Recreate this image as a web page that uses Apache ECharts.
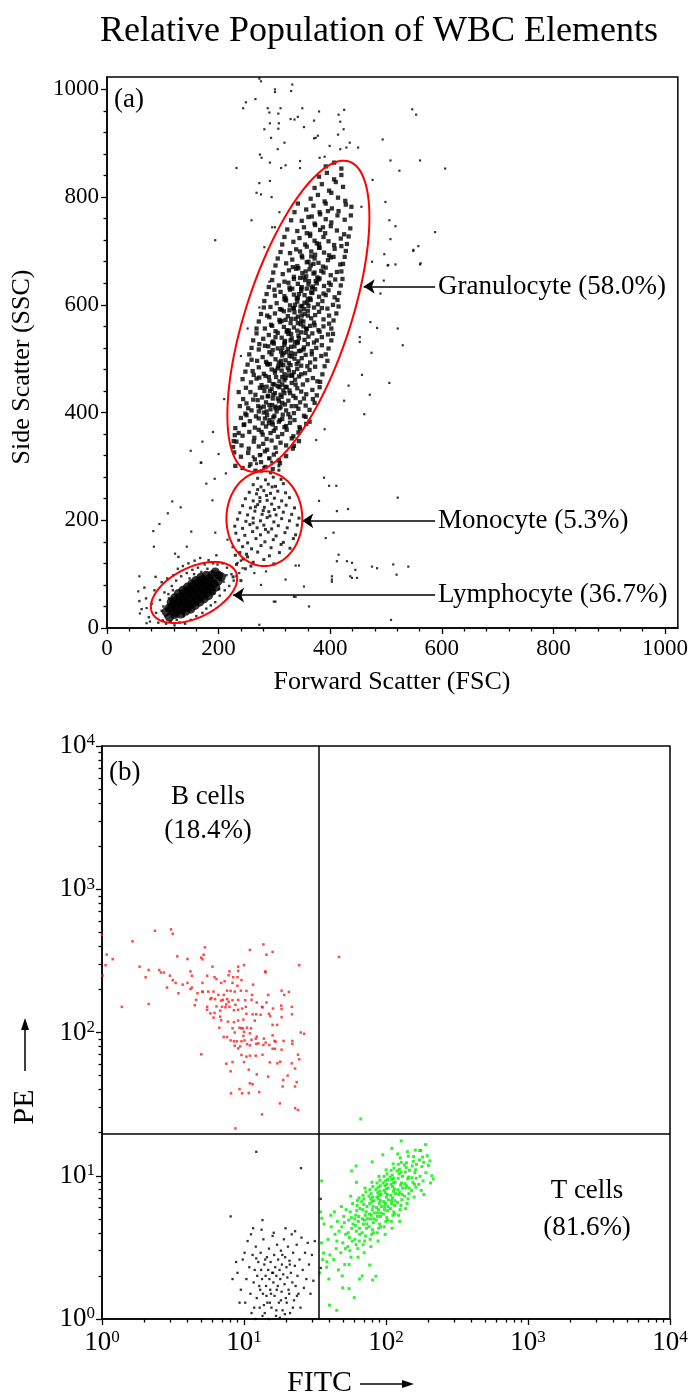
<!DOCTYPE html>
<html><head><meta charset="utf-8">
<script src="https://cdn.jsdelivr.net/npm/echarts@6.0.0/dist/echarts.min.js"></script>
<style>html,body{margin:0;padding:0;background:#fff}#c{width:691px;height:1396px}</style>
</head><body><div id="c"></div>
<script>
// ---------------- DATA ----------------
const titleText = 'Relative Population of WBC Elements';
const scatterTicks = [0, 200, 400, 600, 800, 1000];
const scatterMinorTicks = [40,80,120,160,240,280,320,360,440,480,520,560,640,680,720,760,840,880,920,960];
const logTicks = [1, 10, 100, 1000, 10000];
const logMinorTicks = [2,3,4,5,6,7,8,9,20,30,40,50,60,70,80,90,200,300,400,500,600,700,800,900,2000,3000,4000,5000,6000,7000,8000,9000];
const annotationLabels = ['Granulocyte (58.0%)', 'Monocyte (5.3%)', 'Lymphocyte (36.7%)'];
// arrow start/end in data units: [xStart, xEnd, y]
const annotationArrows = [[588, 460, 634], [588, 350, 199], [588, 226, 61]];
// gates: [cx, cy, ux, uy, vx, vy] (FSC, SSC units)
const gateEllipses = [
  [343, 579, 91, 287, 89, -31],
  [282, 203, 68, 0, 0, 88],
  [156, 66, 75, 38, 19, -42]
];
const quadrantFITC = 33.4;
const quadrantPE = 19.5;

const granulocytes = [
[243,297],[257,304],[266,292],[276,308],[284,299],[297,295],[310,306],[230,301],
[240,318],[253,325],[265,313],[274,321],[283,328],[291,315],[299,322],[308,311],[321,319],[228,326],
[241,339],[254,333],[263,346],[272,337],[280,342],[287,331],[295,348],[302,335],[311,344],[321,339],[333,333],[227,347],
[243,357],[255,364],[264,353],[272,368],[279,359],[286,351],[293,362],[299,366],[306,355],[314,360],[322,368],[331,352],[343,363],[229,358],
[245,377],[256,384],[265,372],[272,389],[279,380],[285,374],[291,386],[297,378],[302,371],[308,383],[314,388],[321,375],[328,381],[336,386],[345,373],[357,379],[283,389],
[248,398],[259,404],[267,393],[275,409],[281,400],[287,395],[293,406],[298,391],[304,402],[309,408],[315,396],[321,404],[328,391],[335,399],[343,407],[353,394],[272,402],[311,410],
[250,417],[262,424],[271,412],[278,428],[285,419],[291,414],[297,426],[302,411],[308,421],[313,429],[319,415],[325,422],[331,412],[338,427],[346,419],[356,413],[369,425],[288,430],
[257,438],[266,433],[274,446],[282,440],[289,431],[295,444],[301,436],[306,449],[311,433],[316,441],[322,447],[328,436],[334,431],[341,445],[348,439],[357,434],[368,442],[286,448],
[258,456],[268,463],[277,451],[284,468],[291,459],[297,453],[303,466],[309,458],[314,452],[320,464],[325,469],[331,455],[337,461],[344,467],[351,452],[359,460],[369,464],[382,457],
[261,477],[272,484],[281,472],[288,489],[295,480],[301,474],[307,486],[313,478],[318,471],[324,483],[329,488],[335,475],[341,481],[348,487],[355,473],[363,479],[373,485],[292,490],
[269,496],[279,503],[287,491],[295,508],[302,499],[308,493],[314,506],[320,497],[326,492],[331,504],[337,509],[343,495],[349,501],[356,507],[364,493],[373,499],[384,505],[316,510],
[272,517],[283,524],[291,512],[299,528],[306,519],[312,513],[318,526],[324,518],[330,511],[336,523],[341,529],[347,515],[353,521],[360,527],[367,514],[375,520],[385,525],[296,530],
[280,537],[290,544],[298,532],[306,548],[313,539],[319,533],[325,546],[331,538],[337,531],[343,543],[348,549],[354,535],[361,541],[368,547],[376,534],[385,540],[396,545],[322,550],
[283,556],[294,563],[302,551],[310,568],[317,559],[323,553],[329,566],[335,558],[341,552],[347,564],[352,569],[358,555],[364,561],[371,567],[379,553],[388,560],[398,565],[313,570],
[291,577],[301,584],[309,572],[317,588],[324,579],[330,574],[336,586],[342,578],[348,571],[354,583],[360,589],[366,575],[373,581],[380,587],[388,573],[398,580],[327,590],
[293,596],[304,603],[313,591],[321,608],[328,599],[335,593],[341,606],[347,597],[353,592],[359,604],[365,609],[371,595],[378,601],[386,607],[395,593],[405,600],[318,610],
[301,617],[311,624],[320,612],[328,628],[335,619],[342,613],[348,626],[354,618],[360,611],[366,623],[373,629],[380,615],[388,621],[397,627],[408,614],[332,630],
[308,636],[318,643],[327,632],[335,648],[342,639],[349,633],[355,646],[361,638],[367,631],[374,644],[381,649],[389,635],[398,641],[409,647],[346,650],
[315,657],[326,664],[335,652],[343,668],[350,659],[357,653],[363,666],[370,658],[377,651],[384,663],[392,669],[401,655],[412,661],[339,667],
[321,677],[332,684],[341,672],[350,688],[358,679],[365,673],[372,686],[379,678],[387,671],[396,683],[406,689],[418,675],
[328,696],[339,703],[349,691],[358,708],[366,699],[373,693],[381,706],[389,697],[398,692],[408,704],[420,709],
[334,717],[345,724],[355,712],[364,728],[372,719],[380,713],[388,726],[397,718],[407,711],[419,723],
[341,737],[353,744],[364,732],[373,748],[382,739],[391,733],[401,746],[412,738],[425,731],
[349,756],[361,763],[372,751],[382,768],[392,759],[402,753],[413,766],[426,758],
[357,777],[370,784],[381,772],[392,788],[403,779],[415,774],[428,786],
[365,797],[378,804],[390,792],[402,808],[414,799],[427,793],
[372,817],[385,824],[398,812],[410,828],[423,819],
[380,838],[394,845],[407,833],[420,841],
[392,857],[407,864],[420,853],
[290,380],[300,394],[286,402],[310,386],[296,414],[306,426],[292,440],[318,436],[300,452],[314,466],[306,482],[326,478],[312,496],[322,512],[336,500],
[318,530],[330,522],[344,538],[326,552],[338,574],[352,560],[334,594],[346,588],[360,580],[340,612],[354,604],[368,622],[348,630],[362,644],[376,640],
[356,662],[370,676],[302,408],[320,448],[332,470],[316,488],[344,514],[330,546],[356,548],[342,566],[350,598],[364,612],[358,630],[372,660],[366,690],[380,706],
[226,336],[232,346],[335,338],[344,347],
[236,362],[230,371],[240,390],[246,378],[334,356],[346,370],[356,392],[363,383],[250,395],
[238,412],[244,425],[236,438],[249,446],[363,405],[372,418],[376,432],[381,447],[253,408],
[243,462],[248,476],[252,489],[259,498],[377,458],[386,471],[390,486],[395,496],[263,470],
[255,508],[259,520],[262,534],[268,547],[392,508],[397,519],[402,534],[405,546],[273,527],
[268,556],[272,569],[276,583],[281,595],[402,556],[406,571],[411,584],[415,597],[287,580],
[282,607],[286,620],[290,633],[296,646],[413,609],[416,622],[419,636],[422,648],[300,628],
[298,660],[302,673],[306,686],[311,698],[420,662],[423,676],[426,689],[428,700],
[314,712],[318,726],[323,740],[430,713],[433,727],[436,742],
[330,757],[336,772],[342,788],[437,766],[438,782],
[277,364],[318,373],[296,382],[325,397],[281,411],[314,418],[339,412],[270,423],[298,433],[327,441],[353,426],[279,447],[309,447],[338,452],
[290,466],[318,460],[348,471],[273,465],[301,478],[331,468],[359,486],[285,494],[312,488],[340,490],[297,516],[327,505],[352,517],[367,508],
[289,523],[314,520],[342,531],[371,530],[302,540],[329,534],[357,556],[381,550],[296,561],[320,572],[349,580],[372,562],[310,592],[337,600],
[361,598],[385,594],[318,616],[344,620],[369,634],[392,618],[325,641],[352,651],[379,647],[401,637],[333,670],[361,680],[388,660],[346,699],
[376,714],[401,688],[358,733],[387,744],[367,764],[396,774]
];

const monocytes = [
[262,122],[281,127],[299,119],
[250,137],[270,141],[291,134],[309,140],
[243,151],[259,147],[276,153],[294,149],[312,155],[328,148],
[236,163],[252,158],[267,166],[283,160],[298,164],[316,159],[334,166],
[231,176],[247,172],[261,179],[275,173],[289,178],[303,171],[319,177],[338,173],
[229,189],[243,185],[256,192],[269,186],[281,191],[295,184],[307,190],[323,186],[341,191],
[234,202],[249,198],[262,204],[275,199],[287,205],[299,197],[313,203],[327,199],[344,204],
[238,214],[252,210],[265,217],[278,211],[290,216],[303,210],[316,215],[331,211],
[243,227],[257,223],[270,229],[282,224],[295,230],[308,224],[321,228],[336,223],
[248,240],[262,236],[274,242],[287,237],[300,241],[313,236],[327,242],
[255,252],[268,249],[281,255],[293,250],[306,254],[320,251],
[262,266],[276,262],[289,267],[302,263],[316,268],
[270,278],[284,275],[298,280],[312,276],
[277,291],[293,288],[308,293],
[266,225],[280,218],[292,208],[274,235],[286,246],[262,195],[300,220],[284,183],[270,257],[296,262],
[255,300],[268,305],[281,298],[295,308],[308,301],[262,318],[276,322],[290,315],[304,326],
[238,140],[244,128],[232,118],[248,110],[226,95],[240,88],[252,132],[258,115],[230,135]
];

const lymphocyteCore = [
[121,25],[111,37],[132,26],[124,37],[115,48],[141,31],[134,40],[128,48],[121,56],[150,35],[143,45],[136,54],[128,64],
[158,42],[151,51],[143,61],[136,70],[166,48],[159,57],[151,67],[144,76],[174,54],[167,64],[159,73],[152,82],
[182,60],[174,70],[167,79],[159,88],[188,68],[181,77],[174,85],[168,94],[195,76],[186,87],[178,98],[199,87],[189,99],[200,98],
[123,29],[116,39],[134,33],[126,42],[120,50],[145,38],[138,47],[131,57],[153,46],[146,56],[139,65],[162,53],[155,62],[147,71],
[170,59],[163,68],[155,78],[178,65],[171,74],[163,84],[185,72],[178,81],[171,90],[192,82],[184,92],[106,30],[112,20],[205,95],[194,104]
];

const lymphocyteHalo = [
[62,35],[70,55],[75,20],[80,45],[85,70],[88,28],[92,10],[95,52],[98,85],[100,14],[103,66],[106,8],[108,92],[111,55],[114,12],
[116,78],[119,98],[121,5],[124,88],[127,110],[130,10],[133,96],[136,115],[140,8],[143,102],[146,120],[150,15],[153,108],[157,125],
[160,22],[163,112],[167,130],[171,28],[175,118],[178,36],[182,126],[186,42],[190,120],[194,48],[198,118],[202,60],[207,120],
[211,70],[215,112],[219,78],[223,100],[227,88],[232,96],[87,95],[67,75],[58,50],[128,132],[196,135],[240,125],
[101,40],[104,22],[110,63],[113,30],[118,70],[125,15],[138,22],[148,92],[156,100],[169,104],[180,110],[192,64],[201,72],[209,86],[214,98],[98,32]
];

const scatterOutliers = [
[273,1020],[276,1015],[301,1000],[301,995],[330,997],[332,1009],[249,976],[266,982],[244,965],[288,965],[291,957],[307,955],[311,965],[350,965],
[329,945],[336,944],[342,949],[380,959],[371,942],[415,953],[425,962],[418,940],[353,930],[282,926],[292,937],[308,937],[307,927],[294,910],
[318,901],[306,889],[274,879],[277,873],[292,864],[312,854],[320,859],[346,867],[346,854],[232,854],[273,826],[292,830],[268,808],[276,805],
[295,800],[309,772],[259,757],[194,720],[282,707],[301,744],[296,744],[374,910],[378,914],[371,909],[399,895],[390,875],[381,873],[429,892],
[435,901],[450,892],[418,889],[424,926],[414,916],
[547,963],[554,953],[606,853],[561,868],[508,868],[524,849],[494,907],[588,735],[558,709],[549,700],[561,675],[517,746],[508,722],[506,757],
[499,791],[497,694],[517,675],[503,673],[476,832],[456,782],
[490,621],[484,557],[472,568],[521,556],[453,540],[453,531],[530,525],[474,511],[457,470],[506,455],[471,433],[425,422],[433,450],[461,397],
[390,369],[375,349],[411,264],[389,279],[521,242],[549,702],[562,677],[504,674],[496,645],[475,680],
[190,364],[171,346],[169,307],[193,277],[210,425],[240,505],[252,556],[273,595],[291,643],
[150,329],[200,323],[168,307],[117,235],[132,224],[109,213],[94,193],[83,180],[151,179],[84,151],[143,151],[122,138],[194,177],[189,237],
[178,268],[213,287],[216,164],[225,150],[234,121],[237,102],[243,111],[58,96],[56,68],[59,27],[71,37],[77,12],[273,6],[302,49],[320,90],
[338,116],[344,116],[353,77],[276,80],[285,105],[264,102],[380,236],[398,264],[412,217],[432,221],[392,167],[406,177],[415,136],[412,124],
[430,124],[403,96],[403,86],[436,96],[445,108],[362,40],[338,58],
[439,121],[448,93],[475,114],[484,111],[513,118],[519,99],[540,114],[509,15],[71,9],[299,49],[335,58],[403,90],[439,93]
];

// panel (b): [FITC, PE]
const bCells = [
[1.0,480],[1.08,350],[1.06,295],[1.01,250],[1.19,325],[1.38,151],[1.64,433],[2.36,513],[3.06,525],[3.15,488],
[1.84,288],[2.13,273],[2.03,243],[2.13,158],[2.53,273],[2.6,262],[2.73,262],[3.01,249],[2.87,206],[3.15,232],
[3.3,222],[3.45,188],[3.39,340],[4.0,326],[4.2,267],[4.3,249],[4.0,222],[3.7,216],[4.3,206],[4.2,201],
[4.7,188],[4.6,169],[4.5,155],[5.1,193],[5.1,222],[5.5,249],[5.3,393],[5.2,349],[5.0,333],[5.1,324],
[6.0,288],[6.2,243],[6.4,236],[6.9,222],[7.3,228],[7.8,251],[7.9,267],[8.4,243],[8.3,222],[9.0,243],
[9.1,269],[9.1,288],[10.0,295],[9.6,232],[11.0,377],[11.6,216],[13.7,412],[14.4,349],[15.9,365],[14.1,267],
[14.2,263],[24.5,295],[18.4,196],[20.7,192],[19.2,183],[21.7,151],[18.3,154],[18.4,128],[21.8,134],[25.1,100],
[26.5,98],[24.0,70],[24.5,65],[22.9,56],[23.5,45],[22.9,42],[20.3,50],[18.9,46.6],[18.7,42],[17.9,32],
[22.9,29.6],[24.0,28.8],[13.4,26.8],[12.8,38.4],[11.0,44.2],[11.5,43.5],[14.8,49.2],[12.3,51],[10.8,55],[9.3,40.3],
[8.1,37.6],[8.05,53.6],[7.5,60.6],[8.3,62.2],[10.0,62.2],[9.6,69.7],[10.4,67.8],[11.0,68.9],[12.1,68.9],[13.5,70],
[15.2,61.9],[17.2,60.9],[18.0,62.5],[21.7,60.9],[15.9,77],[16.5,77],[15.1,81.8],[13.7,81.8],[12.2,83.2],[11.0,81.3],
[12.6,84],[14.2,85],[16.4,87.3],[19.0,87.3],[21.9,87.3],[21.9,83.2],[18.4,75.9],[16.7,86.3],[15.9,95.5],[13.8,90.6],
[12.1,90.6],[11.0,98.7],[10.0,101],[9.6,107],[10.5,108],[11.2,107],[11.9,121],[13.1,133],[15.0,135],[15.3,130],
[15.9,113],[17.1,113],[18.4,146],[16.0,147],[13.4,151],[12.2,134],[11.5,134],[10.4,135],[9.9,123],[9.8,107],
[9.3,108],[9.1,121],[8.5,118],[8.5,143],[9.1,144],[9.7,147],[10.3,151],[11.3,169],[11.4,183],[10.4,195],
[9.5,196],[9.0,212],[8.6,193],[8.05,195],[7.6,196],[7.2,183],[6.9,167],[7.5,157],[7.9,151],[8.7,156],
[9.1,169],[10.2,168],[12.3,162],[14.4,162],[14.8,183],[13.5,150],[8.3,168],[7.8,164],[7.4,150],[7.0,151],
[6.8,142],[6.8,129],[6.9,122],[6.7,108],[7.7,119],[8.3,107],[8.6,100],[7.2,93],[7.6,93],[8.05,88],
[8.5,86.8],[8.9,86.8],[8.6,80.9],[9.1,77.4],[9.4,80],[9.6,86.8],[9.9,94.5],[10.1,88],[10.5,83],[11.3,89],
[12.3,93.5],[6.6,183],[6.25,171],[5.9,174],[5.8,171],[5.5,151],[5.5,144],[5.8,136],[6.1,127],[6.2,137],
[6.4,152],[7.1,169],[7.6,171],[6.1,193],[5.6,193],[5.1,192],[5.0,70.4],[8.7,21.4],[10.8,37.8],[9.7,37.6],
[46.7,337]
];

const doubleNegative = [
[9.0,2.1],[9.5,1.6],[9.8,2.6],[10.2,1.3],[10.4,1.9],[10.6,3.5],[10.9,2.3],[11.1,1.5],[11.3,1.1],[11.5,2.8],[11.7,1.8],[11.9,2.2],
[12.1,3.2],[12.3,1.4],[12.4,2.0],[12.6,2.5],[12.8,1.7],[12.9,1.2],[13.1,2.9],[13.2,2.2],[13.4,1.9],[13.6,1.5],[13.7,3.6],[13.9,2.4],
[14.0,1.1],[14.2,2.0],[14.3,1.7],[14.5,2.7],[14.6,1.3],[14.8,2.2],[15.0,3.1],[15.1,1.9],[15.3,1.6],[15.4,2.5],[15.6,1.2],[15.8,2.1],
[15.9,3.8],[16.1,1.8],[16.3,2.8],[16.4,1.45],[16.6,2.3],[16.8,1.05],[16.9,2.0],[17.1,3.3],[17.3,1.7],[17.4,2.6],[17.6,1.3],[17.8,2.2],
[18.0,1.9],[18.2,3.0],[18.4,1.55],[18.5,2.4],[18.7,1.15],[18.9,2.05],[19.1,3.6],[19.3,1.75],[19.5,2.7],[19.7,1.4],[19.9,2.3],[20.2,1.95],
[20.4,3.2],[20.6,1.6],[20.9,2.55],[21.1,1.1],[21.4,2.1],[21.7,3.9],[21.9,1.8],[22.2,2.9],[22.5,1.35],[22.8,2.35],[23.1,1.7],[23.5,3.3],
[23.8,2.0],[24.2,1.5],[24.6,2.6],[25.0,1.2],[25.4,3.7],[25.9,2.2],[26.4,1.65],[26.9,2.9],[27.5,1.9],[28.1,3.4],[28.7,2.4],[29.4,1.5],
[30.1,2.8],[30.8,1.85],[31.5,3.5],[12.0,1.0],[14.9,1.0],[17.9,1.02],[13.3,4.2],[16.2,4.0],[19.6,4.3],[11.2,3.9],[22.9,4.1],[10.1,2.9],
[9.3,1.3],[8.3,1.9],[8.8,2.5],[13.0,1.6],[14.1,2.6],[15.5,1.5],[16.0,2.1],[17.0,1.6],[18.6,2.8],[20.0,1.3],[21.0,2.4],[13.8,1.25],[12.2,2.65],
[11.8,1.2],[13.5,1.05],[15.2,1.3],[16.9,1.15],[18.2,1.35],[19.4,1.08],[20.8,1.5],[22.1,1.2],[23.6,1.45],[14.4,1.45],
[12.2,14.7],[25.2,11.3],[8.05,5.2],[13.5,4.9],[11.6,4.3],[34.7,6.9],[34.7,2.27]
];

const tCells = [
[34.0,2.1],[35.2,3.4],[36.6,4.6],[35.8,2.6],[34.6,5.6],
[38.2,2.3],[39.1,3.6],[40.3,2.8],[41.2,4.4],[39.6,1.9],[40.9,5.3],
[42.9,2.6],[43.8,3.9],[44.6,3.1],[45.5,4.8],[46.2,2.2],[43.3,5.6],[45.1,3.5],[46.7,4.1],
[48.1,2.9],[48.9,4.4],[49.6,3.4],[50.4,5.2],[51.2,2.4],[52.0,3.9],[48.5,6.1],[50.9,4.7],[51.7,3.1],[49.2,2.0],[52.4,5.8],
[53.9,3.2],[54.6,4.9],[55.3,3.7],[56.0,5.6],[56.7,2.7],[57.4,4.3],[58.2,6.4],[54.2,4.0],[55.7,3.0],[57.0,5.1],[57.9,3.5],[55.0,2.4],[58.6,4.6],[56.4,7.2],
[60.5,3.6],[61.2,5.3],[61.9,4.1],[62.6,6.2],[63.3,3.1],[63.9,4.8],[64.6,7.0],[65.3,3.9],[60.9,4.5],[62.2,5.7],[63.6,2.7],[64.2,5.2],[65.0,4.3],[61.6,3.3],[62.9,6.7],[64.9,3.5],[60.2,5.0],[65.6,5.9],
[67.9,4.0],[68.6,5.8],[69.3,4.6],[70.0,6.9],[70.7,3.5],[71.4,5.3],[72.1,7.7],[72.8,4.3],[73.5,6.1],[68.2,5.0],[69.0,3.3],[69.7,6.3],[70.4,4.9],[71.1,8.2],[71.8,3.8],[72.5,5.6],[73.2,4.6],[67.5,6.6],[68.9,7.3],[73.9,5.0],[70.2,2.9],
[76.1,4.4],[76.9,6.4],[77.7,5.0],[78.5,7.5],[79.2,3.9],[80.0,5.8],[80.8,8.4],[81.6,4.7],[82.4,6.7],[76.5,5.4],[77.3,3.6],[78.1,6.9],[78.9,5.3],[79.6,9.0],[80.4,4.2],[81.2,6.1],[82.0,5.0],[75.8,7.2],[77.0,8.0],[82.8,5.5],[78.3,3.2],[80.6,7.1],[81.9,4.0],[79.8,6.6],
[85.4,4.9],[86.3,7.1],[87.1,5.5],[88.0,8.3],[88.9,4.3],[89.7,6.4],[90.6,9.3],[91.5,5.2],[92.4,7.4],[85.8,6.0],[86.7,4.0],[87.6,7.6],[88.5,5.8],[89.3,9.9],[90.2,4.6],[91.1,6.7],[92.0,5.5],[85.0,8.0],[86.4,8.9],[92.8,6.1],[87.9,3.5],[90.4,7.8],[91.8,4.4],[89.5,7.3],[88.2,6.9],[86.9,5.2],[91.3,8.5],
[95.9,5.4],[96.8,7.9],[97.8,6.1],[98.8,9.2],[99.7,4.8],[100.7,7.1],[101.7,10.3],[102.7,5.7],[103.7,8.2],[96.3,6.6],[97.3,4.4],[98.3,8.5],[99.2,6.4],[100.2,11.0],[101.2,5.1],[102.2,7.4],[103.2,6.1],[95.4,8.9],[96.9,9.9],[104.2,6.8],[98.6,3.9],[101.4,8.7],[103.0,4.9],[100.5,8.1],[99.0,7.6],[97.5,5.8],[102.5,9.4],
[107.4,5.9],[108.5,8.7],[109.6,6.7],[110.7,10.1],[111.7,5.3],[112.8,7.8],[113.9,11.3],[115.0,6.2],[116.1,9.0],[107.9,7.3],[109.0,4.8],[110.1,9.4],[111.2,7.0],[112.3,12.1],[113.4,5.6],[114.5,8.1],[115.6,6.7],[106.9,9.8],[108.6,10.9],[116.7,7.5],[110.4,4.3],[113.6,9.6],[115.3,5.4],[112.6,8.9],[111.0,8.4],[109.3,6.4],
[120.6,6.5],[121.8,9.6],[123.0,7.4],[124.3,11.1],[125.5,5.8],[126.7,8.6],[128.0,12.4],[129.2,6.8],[130.4,9.9],[121.2,8.0],[122.4,5.3],[123.7,10.3],[124.9,7.7],[126.1,13.3],[127.4,6.2],[128.6,8.9],[129.8,7.4],[120.0,10.8],[122.0,12.0],[131.0,8.2],[125.0,4.8],[127.6,10.6],
[135.3,7.2],[136.7,10.6],[138.0,8.2],[139.4,12.3],[140.8,6.4],[142.2,9.5],[143.6,13.7],[145.0,7.5],[146.4,10.9],[136.0,8.8],[137.4,5.9],[138.8,11.4],[140.1,8.5],[141.5,14.7],[142.9,6.9],[144.3,9.8],[145.7,8.2],[134.6,11.9],
[151.7,7.9],[153.2,11.7],[154.8,9.0],[156.3,13.6],[157.8,7.1],[159.4,10.5],[160.9,15.1],[162.5,8.3],[164.0,12.0],[152.4,9.7],[155.5,12.6],[158.6,8.7],[161.7,11.0],[163.2,9.6],
[170.2,8.7],[172.0,12.9],[173.7,9.9],[175.5,15.0],[177.2,7.9],[179.0,11.6],[180.8,13.5],[182.5,9.2],[184.2,12.4],
[191,10.5],[195,13.8],[199,11.8],[204,12.7],[210,10.0],
[49.5,1.65],[55.0,1.63],[59.8,1.41],[68.0,2.0],[80.6,1.87],[85.0,1.99],[76.8,2.38],[128,17.5],[121,14.2],[173,15.0],[206,8.9],[185,7.4],
[57.3,10.8],[61.6,11.7],[35.3,9.2],[35.3,5.05],[36.3,2.89],[38.3,2.51],[40,1.25],[45,1.15],[65,1.9],[62,9.0],[80,12.5],[110,15.5],
[95,14.0],[190,16.5],[215,9.5],[66.4,24.9]
];

// ---------------- CHART ----------------
const FONT = '"Liberation Serif", "Times New Roman", serif';
const BLACK = '#000';
const chart = echarts.init(document.getElementById('c'), null, {width: 691, height: 1396});

function linAxis(gridIndex, pos, minor) {
  return {
    gridIndex, type: 'value', min: 0, max: 1023, position: pos,
    axisLine: {show: !minor, onZero: false, lineStyle: {color: BLACK, width: 1.5}},
    axisTick: {show: true, inside: false, length: minor ? 3.5 : 6,
      customValues: minor ? scatterMinorTicks : scatterTicks, lineStyle: {color: BLACK, width: 1.3}},
    axisLabel: minor ? {show: false} : {show: true, customValues: scatterTicks, color: BLACK,
      formatter: v => String(v), fontFamily: FONT, fontSize: 23, margin: pos === 'bottom' ? 9 : 8},
    splitLine: {show: false}, minorTick: {show: false}
  };
}
const logRich = {
  m: {fontFamily: FONT, fontSize: 27, color: BLACK, verticalAlign: 'bottom'},
  e: {fontFamily: FONT, fontSize: 17, color: BLACK, verticalAlign: 'top'}
};
function logAxis(gridIndex, pos, minor) {
  return {
    gridIndex, type: 'log', logBase: 10, min: 1, max: 10000, position: pos,
    axisLine: {show: !minor, onZero: false, lineStyle: {color: BLACK, width: 1.5}},
    axisTick: {show: true, inside: false, length: minor ? 3.5 : 6,
      customValues: minor ? logMinorTicks : logTicks, lineStyle: {color: BLACK, width: 1.3}},
    axisLabel: minor ? {show: false} : {show: true, customValues: logTicks, margin: pos === 'bottom' ? 10 : 7,
      formatter: v => '{m|10}{e|' + Math.round(Math.log10(v)) + '}', rich: logRich},
    splitLine: {show: false}, minorTick: {show: false}
  };
}

function dots(data, xi, size, color, symbol) {
  return {type: 'scatter', xAxisIndex: xi, yAxisIndex: xi, data, symbol: symbol || 'rect', symbolSize: size,
    itemStyle: {color}, silent: true, z: 2};
}

const outlierSeries = dots(scatterOutliers, 0, 2.2, BLACK);
outlierSeries.markLine = {
  silent: true, symbol: ['none', 'arrow'], symbolSize: 11, animation: false,
  lineStyle: {color: BLACK, width: 1.5, type: 'solid'},
  label: {show: true, position: 'start', distance: 3, formatter: '{b}', color: BLACK, fontFamily: FONT, fontSize: 27},
  data: annotationArrows.map((a, i) => [{coord: [a[0], a[2]], name: annotationLabels[i]}, {coord: [a[1], a[2]]}])
};

const tSeries = dots(tCells, 2, 3, '#00ee00');
tSeries.markLine = {
  silent: true, symbol: ['none', 'none'], animation: false,
  lineStyle: {color: BLACK, width: 1.5, type: 'solid'}, label: {show: false},
  data: [{xAxis: quadrantFITC}, {yAxis: quadrantPE}]
};

const option = {
  animation: false,
  backgroundColor: '#fff',
  title: {text: titleText, left: 374, top: 9, textAlign: 'center',
    textStyle: {fontFamily: FONT, fontSize: 36, fontWeight: 'normal', color: BLACK}},
  grid: [
    {left: 107, top: 77, width: 573, height: 551, show: true, borderColor: BLACK, borderWidth: 1.5, backgroundColor: 'transparent'},
    {left: 102, top: 746, width: 568, height: 573, show: true, borderColor: BLACK, borderWidth: 1.5, backgroundColor: 'transparent'}
  ],
  xAxis: [linAxis(0, 'bottom', false), linAxis(0, 'bottom', true), logAxis(1, 'bottom', false), logAxis(1, 'bottom', true)],
  yAxis: [linAxis(0, 'left', false), linAxis(0, 'left', true), logAxis(1, 'left', false), logAxis(1, 'left', true)],
  series: [
    outlierSeries,
    dots(lymphocyteHalo, 0, 2.4, BLACK),
    dots(lymphocyteCore, 0, 9, BLACK, 'circle'),
    dots(monocytes, 0, 3, BLACK),
    dots(granulocytes, 0, 4.3, BLACK),
    {
      type: 'custom', xAxisIndex: 0, yAxisIndex: 0, silent: true, z: 5, clip: false,
      data: gateEllipses.map(g => [g[0], g[1]]),
      renderItem: (params, api) => {
        const g = gateEllipses[params.dataIndex];
        const pts = [];
        for (let k = 0; k < 120; k++) {
          const t = k / 120 * Math.PI * 2;
          pts.push(api.coord([g[0] + g[2] * Math.cos(t) + g[4] * Math.sin(t),
                              g[1] + g[3] * Math.cos(t) + g[5] * Math.sin(t)]));
        }
        return {type: 'polygon', shape: {points: pts}, style: {fill: 'none', stroke: '#ff0000', lineWidth: 2}};
      }
    },
    dots(bCells, 2, 2.5, '#ff1a1a'),
    dots(doubleNegative, 2, 2.3, BLACK),
    tSeries
  ],
  graphic: [
    {type: 'text', x: 114, y: 100, style: {text: '(a)', fontFamily: FONT, fontSize: 27, fill: BLACK, align: 'left', verticalAlign: 'middle'}},
    {type: 'text', x: 22, y: 367, rotation: Math.PI / 2, style: {text: 'Side Scatter (SSC)', fontFamily: FONT, fontSize: 26, fill: BLACK, align: 'center', verticalAlign: 'middle'}},
    {type: 'text', x: 392, y: 682, style: {text: 'Forward Scatter (FSC)', fontFamily: FONT, fontSize: 26, fill: BLACK, align: 'center', verticalAlign: 'middle'}},
    {type: 'text', x: 109, y: 773, style: {text: '(b)', fontFamily: FONT, fontSize: 27, fill: BLACK, align: 'left', verticalAlign: 'middle'}},
    {type: 'text', x: 208, y: 797, style: {text: 'B cells', fontFamily: FONT, fontSize: 27, fill: BLACK, align: 'center', verticalAlign: 'middle'}},
    {type: 'text', x: 208, y: 831, style: {text: '(18.4%)', fontFamily: FONT, fontSize: 27, fill: BLACK, align: 'center', verticalAlign: 'middle'}},
    {type: 'text', x: 587, y: 1191, style: {text: 'T cells', fontFamily: FONT, fontSize: 27, fill: BLACK, align: 'center', verticalAlign: 'middle'}},
    {type: 'text', x: 587, y: 1228, style: {text: '(81.6%)', fontFamily: FONT, fontSize: 27, fill: BLACK, align: 'center', verticalAlign: 'middle'}},
    {type: 'text', x: 287, y: 1383, style: {text: 'FITC', fontFamily: FONT, fontSize: 30, fill: BLACK, align: 'left', verticalAlign: 'middle'}},
    {type: 'line', shape: {x1: 360, y1: 1384, x2: 405, y2: 1384}, style: {stroke: BLACK, lineWidth: 1.5}},
    {type: 'polygon', shape: {points: [[414, 1384], [402, 1380], [402, 1388]]}, style: {fill: BLACK}},
    {type: 'text', x: 25, y: 1107, rotation: Math.PI / 2, style: {text: 'PE', fontFamily: FONT, fontSize: 30, fill: BLACK, align: 'center', verticalAlign: 'middle'}},
    {type: 'line', shape: {x1: 25, y1: 1071, x2: 25, y2: 1027}, style: {stroke: BLACK, lineWidth: 1.5}},
    {type: 'polygon', shape: {points: [[25, 1018], [21, 1030], [29, 1030]]}, style: {fill: BLACK}}
  ]
};
chart.setOption(option);
</script></body></html>
